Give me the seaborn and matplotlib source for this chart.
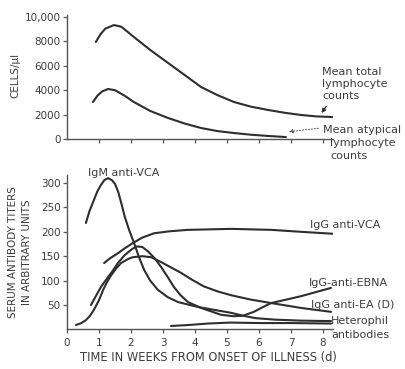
import matplotlib
matplotlib.use("Agg")
import matplotlib.pyplot as plt
import seaborn as sns
import pandas as pd

# ---------------- data ----------------
# Top panel: cells / ul  (weeks, cells)
total_wk = [0.9, 1.05, 1.2, 1.47, 1.7, 2.09, 2.6, 3.16, 3.7, 4.19, 4.7, 5.22, 5.75, 6.28, 6.8, 7.31, 7.8, 8.31]
total_val = [7950, 8600, 9050, 9340, 9200, 8360, 7300, 6230, 5200, 4260, 3600, 3030, 2650, 2380, 2150, 1970, 1850, 1800]
atyp_wk = [0.81, 0.95, 1.1, 1.28, 1.5, 1.8, 2.09, 2.6, 3.16, 3.7, 4.19, 4.7, 5.22, 5.75, 6.28, 6.84]
atyp_val = [3030, 3550, 3900, 4100, 4000, 3550, 3030, 2300, 1720, 1250, 900, 650, 490, 350, 250, 160]

# Bottom panel: serum antibody titers (arbitrary units)
igm_wk = [0.59, 0.7, 0.84, 0.95, 1.06, 1.17, 1.28, 1.4, 1.5, 1.6, 1.7, 1.8, 1.94, 2.09, 2.25, 2.41,
          2.6, 2.84, 3.15, 3.47, 4.09, 4.6, 5.13, 5.5, 5.9, 6.5, 7.3, 8.25]
igm_val = [218, 242, 265, 283, 296, 306, 310, 306, 298, 282, 258, 232, 204, 178, 148, 122,
           100, 81, 66, 56, 46, 40, 34, 28, 23, 20, 18, 17]
vca_wk = [1.16, 1.35, 1.59, 1.8, 2.06, 2.35, 2.72, 3.2, 3.78, 5.13, 6.38, 7.31, 8.31]
vca_val = [136, 146, 156, 166, 177, 188, 197, 201, 204, 206, 204, 200, 196]
ebna_wk = [0.75, 0.9, 1.06, 1.28, 1.45, 1.59, 1.8, 2.0, 2.16, 2.35, 2.53, 2.75, 2.94, 3.15, 3.34, 3.55,
           3.78, 4.19, 4.81, 5.2, 5.5, 5.84, 6.1, 6.38, 7.31, 8.25]
ebna_val = [50, 68, 87, 107, 122, 136, 152, 163, 170, 169, 160, 145, 128, 107, 87, 70,
            56, 44, 30, 27, 28, 36, 45, 54, 68, 85]
ea_wk = [0.28, 0.45, 0.59, 0.72, 0.84, 1.0, 1.13, 1.25, 1.38, 1.55, 1.69, 1.9, 2.06, 2.35, 2.63, 2.94,
         3.25, 3.56, 3.9, 4.28, 4.7, 5.13, 5.75, 6.38, 7.31, 8.25]
ea_val = [9, 13, 19, 28, 40, 60, 81, 97, 111, 126, 136, 144, 148, 150, 148, 138,
          127, 116, 102, 88, 78, 70, 61, 54, 44, 36]
het_wk = [3.25, 3.8, 4.4, 5.1, 6.0, 7.0, 8.25]
het_val = [7, 9, 12, 14, 13, 13, 12]

top_yticks = [0, 2000, 4000, 6000, 8000, 10000]
top_yticklabels = ["0", "2000", "4000", "6000", "8000", "10,000"]
bot_yticks = [50, 100, 150, 200, 250, 300]
x_ticks = [0, 1, 2, 3, 4, 5, 6, 7, 8]

# ---------------- figure ----------------
W, H = 406, 369
sns.set_style("ticks")
plt.rcParams["font.family"] = ["DejaVu Sans"]
fig = plt.figure(figsize=(W / 100, H / 100), dpi=100)

LC = "#2e2e2e"
TC = "#3c3c3c"
LW = 1.5

def px_ax(left, top, right, bottom):
    return fig.add_axes([left / W, 1 - bottom / H, (right - left) / W, (bottom - top) / H])

ax1 = px_ax(67, 139 - 10200 * 0.0122, 67 + 8.3 * 32, 139)
ax2 = px_ax(67, 329.4 - 316 * 0.488, 67 + 8.3 * 32, 329.4)

for ax in (ax1, ax2):
    sns.despine(ax=ax)
    for s in ("left", "bottom"):
        ax.spines[s].set_color("#555555")
        ax.spines[s].set_linewidth(1.0)
    ax.tick_params(colors="#555555", labelcolor=TC, length=3, width=0.9, labelsize=7.5, pad=1.5)
    ax.set_xlim(0, 8.3)
    ax.set_xlabel("")
    ax.set_ylabel("")

# top panel
sns.lineplot(x=total_wk, y=total_val, ax=ax1, color=LC, lw=LW)
sns.lineplot(x=atyp_wk, y=atyp_val, ax=ax1, color=LC, lw=LW)
ax1.set_ylim(0, 10200)
ax1.set_yticks(top_yticks)
ax1.set_yticklabels(top_yticklabels)
ax1.set_xticks(x_ticks[1:])
ax1.set_xticklabels([])

# bottom panel
for xs, ys in [(igm_wk, igm_val), (vca_wk, vca_val), (ebna_wk, ebna_val), (ea_wk, ea_val), (het_wk, het_val)]:
    sns.lineplot(x=xs, y=ys, ax=ax2, color=LC, lw=LW)
ax2.set_ylim(0, 316)
ax2.set_yticks(bot_yticks)
ax2.set_xticks(x_ticks)
ax2.set_xticklabels([str(v) for v in x_ticks])
ax2.tick_params(axis="x", pad=3)

def ftext(x, y, s, **kw):
    kw.setdefault("color", TC)
    kw.setdefault("fontsize", 8)
    kw.setdefault("va", "center")
    fig.text(x / W, 1 - y / H, s, **kw)

# axis titles
ftext(15, 75, "CELLS/\u03bcl", rotation=90, ha="center", fontsize=7.5)
ftext(13, 252, "SERUM ANTIBODY TITERS", rotation=90, ha="center", fontsize=7.5)
ftext(27, 252, "IN ARBITRARY UNITS", rotation=90, ha="center", fontsize=7.5)
ftext(208, 358, "TIME IN WEEKS FROM ONSET OF ILLNESS (d)", ha="center", fontsize=8.3)

# top labels
ftext(322, 72, "Mean total")
ftext(322, 84, "lymphocyte")
ftext(322, 96, "counts")
ftext(323, 130, "Mean atypical")
ftext(330, 143, "lymphocyte")
ftext(330, 156, "counts")

ax1.annotate("", xy=(7.9, 1950), xycoords="data", xytext=(328, H - 104), textcoords="figure pixels",
             arrowprops=dict(arrowstyle="-|>", color=LC, lw=0.9, mutation_scale=6))
ax1.annotate("", xy=(6.84, 570), xycoords="data", xytext=(321, H - 128), textcoords="figure pixels",
             arrowprops=dict(arrowstyle="-|>", color="#666666", lw=0.8, ls=":", mutation_scale=6))

# bottom labels
ftext(88, 173, "IgM anti-VCA")
ftext(310, 225, "IgG anti-VCA")
ftext(309, 283, "IgG-anti-EBNA")
ftext(311, 305, "IgG anti-EA (D)")
ftext(331, 321, "Heterophil")
ftext(331, 335, "antibodies")

fig.savefig("out.png", dpi=100)
